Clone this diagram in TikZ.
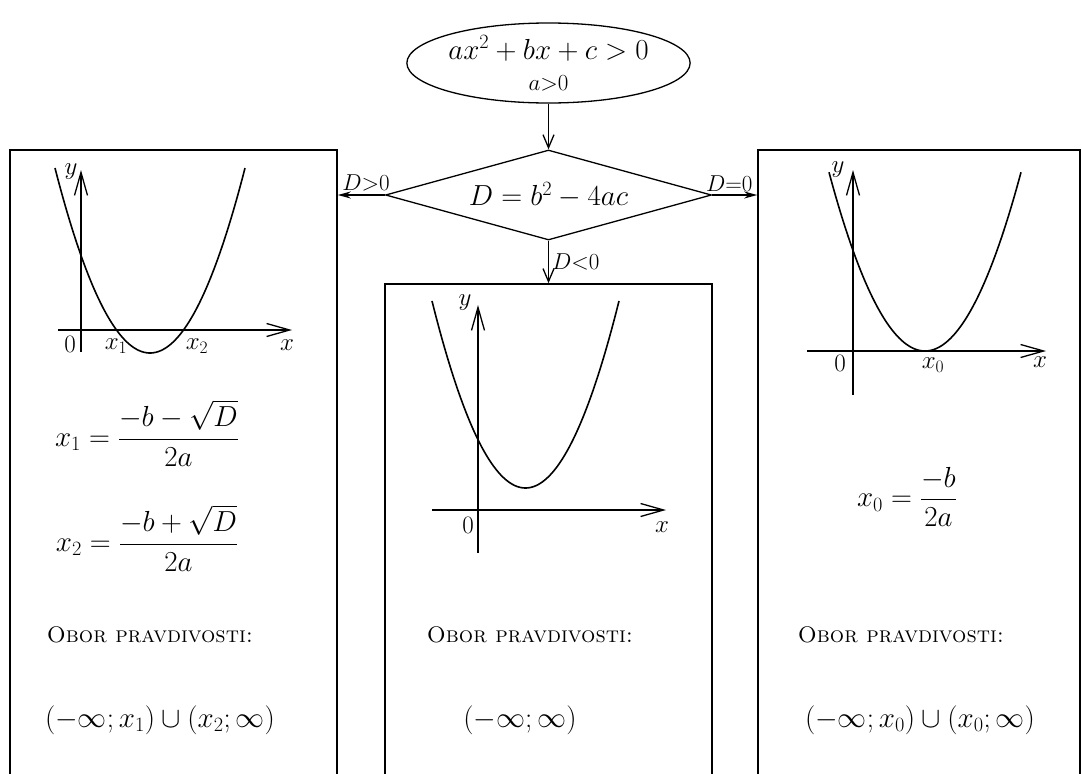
\RequirePackage{fix-cm}
\documentclass[tikz,border=0pt]{standalone}
\usepackage{amsmath}
\usetikzlibrary{shapes.geometric,arrows.meta}
\newcommand{\smalllab}[1]{{\fontsize{23}{27}\selectfont$#1$}}
\begin{document}
\begin{tikzpicture}[x=1pt,y=-1pt,
  every node/.style={font=\fontsize{29}{35}\selectfont},
  lbl/.style={font=\fontsize{25}{29}\selectfont, inner sep=0pt},
  sc/.style={font=\fontsize{22.5}{27}\selectfont, inner sep=0pt},
  box/.style={draw, line width=1.6pt, minimum height=660, inner sep=0pt},
  flowv/.style={line width=1.3pt, -{Straight Barb[length=13pt,width=11pt,line width=1.3pt]}},
  flowh/.style={line width=1.3pt, -{Stealth[length=13pt,width=7pt]}},
  axis/.style={line width=1.3pt, -{Straight Barb[length=23pt,width=13pt,line width=1.3pt]}},
  curve/.style={line width=1.6pt},
  lab/.style={inner sep=3pt}]
\clip (0,0) rectangle (1082,774);
% boxes
\node[box, minimum width=327] (L) at (173.5,480) {};
\node[box, minimum width=327] (M) at (548.5,614) {};
\node[box, minimum width=322] (R) at (919,480) {};
% start and decision
\node[draw, ellipse, line width=1.3pt, minimum width=280, minimum height=80, align=center, inner sep=0pt] (start) at (548.5,63)
  {$ax^2+bx+c>0$\\[-4pt]\smalllab{a{>}0}};
\node[draw, diamond, aspect=3.6, minimum width=326, minimum height=90, inner sep=0pt, line width=1.3pt] (dia) at (548.5,195) {$D=b^2-4ac$};
% connectors
\draw[flowv] (start.south) -- (dia.north);
\draw[flowh] (dia.west) -- (dia.west -| L.east) node[lab, pos=0.4, above] (lgt) {\smalllab{D{>}0}};
\draw[flowh] (dia.east) -- (dia.east -| R.west) node[lab, pos=0.38, above] (leq) {\smalllab{D{=}0}};
\draw[flowv] (dia.south) -- (M.north) node[lab, midway, right] (llt) {\smalllab{D{<}0}};
% left graph
\draw[axis] (58,330) -- (292,330);
\draw[axis] (81,352) -- (81,170);
\draw[curve] plot[domain=55:245, samples=80] (\x, {353-0.0205*(\x-150)*(\x-150)});
\node[lbl] (ly) at (71,172) {$y$};
\node[lbl] (l0) at (70,344) {$0$};
\node[lbl] (lx1) at (116,346) {$x_1$};
\node[lbl] (lx2) at (197,346) {$x_2$};
\node[lbl] (lx) at (287,345) {$x$};
% middle graph
\draw[axis] (432,510) -- (666,510);
\draw[axis] (478,553) -- (478,305);
\draw[curve] plot[domain=432:619, samples=80] (\x, {488-0.0214*(\x-525.5)*(\x-525.5)});
\node[lbl] (my) at (465,303) {$y$};
\node[lbl] (m0) at (468,525) {$0$};
\node[lbl] (mx) at (662,527) {$x$};
% right graph
\draw[axis] (807,351) -- (1046,351);
\draw[axis] (853,395) -- (853,170);
\draw[curve] plot[domain=829:1021, samples=80] (\x, {351-0.0194*(\x-925)*(\x-925)});
\node[lbl] (ry) at (838,170) {$y$};
\node[lbl] (r0) at (840,363) {$0$};
\node[lbl] (rx0) at (933,365) {$x_0$};
\node[lbl] (rx) at (1040,362) {$x$};
% formulas
\node (f1) at (147,433) {$x_1 = \dfrac{-b-\sqrt{D}}{2a}$};
\node (f2) at (147,538) {$x_2 = \dfrac{-b+\sqrt{D}}{2a}$};
\node (f0) at (907,497) {$x_0 = \dfrac{-b}{2a}$};
% truth sets
\node[sc] (o1) at (150,635) {\textsc{Obor pravdivosti:}};
\node[sc] (o2) at (530,635) {\textsc{Obor pravdivosti:}};
\node[sc] (o3) at (901,635) {\textsc{Obor pravdivosti:}};
\node (i1) at (160,720) {$(-\infty;x_1)\cup(x_2;\infty)$};
\node (i2) at (520,720) {$(-\infty;\infty)$};
\node (i3) at (920,720) {$(-\infty;x_0)\cup(x_0;\infty)$};
\end{tikzpicture}
\end{document}
